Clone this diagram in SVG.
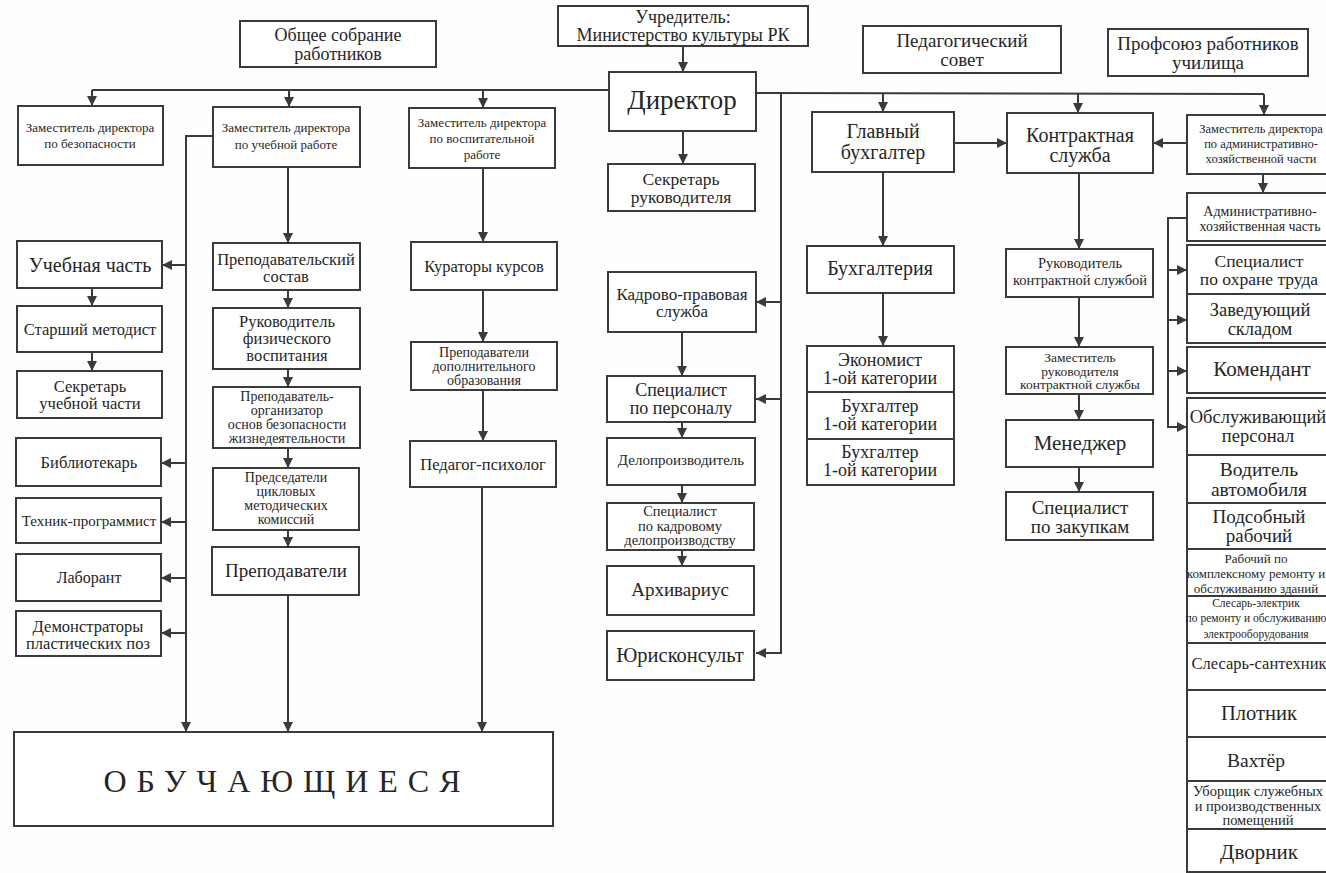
<svg xmlns="http://www.w3.org/2000/svg" width="1326" height="873" viewBox="0 0 1326 873" font-family="'Liberation Serif', 'DejaVu Serif', serif">
<style>
rect.b{fill:#fff;stroke:#3a3a3a;stroke-width:2}
text{font-family:'Liberation Serif','DejaVu Serif',serif;fill:#262626;text-anchor:middle;dominant-baseline:central}
.c line,.c polyline{fill:none;stroke:#3a3a3a;stroke-width:2}
</style>
<defs>
<marker id="a" markerUnits="userSpaceOnUse" markerWidth="11" markerHeight="11" refX="10" refY="5.5" orient="auto"><path d="M0,0.5 L10,5.5 L0,10.5 z" fill="#3a3a3a"/></marker>
</defs>
<rect width="1326" height="873" fill="#fefefe"/>

<g class="c" id="connectors">
<line x1="683" y1="46" x2="683" y2="72" marker-end="url(#a)"/>
<line x1="609" y1="90" x2="92" y2="90"/>
<line x1="92" y1="90" x2="92" y2="106" marker-end="url(#a)"/>
<line x1="289" y1="90" x2="289" y2="107" marker-end="url(#a)"/>
<line x1="483" y1="90" x2="483" y2="108" marker-end="url(#a)"/>
<line x1="756" y1="93" x2="1264" y2="94"/>
<line x1="883" y1="93" x2="883" y2="112" marker-end="url(#a)"/>
<line x1="1078" y1="94" x2="1078" y2="113" marker-end="url(#a)"/>
<line x1="1264" y1="94" x2="1264" y2="115" marker-end="url(#a)"/>
<line x1="683" y1="131" x2="683" y2="164" marker-end="url(#a)"/>
<line x1="781" y1="93" x2="781" y2="654"/>
<line x1="781" y1="302" x2="756" y2="302" marker-end="url(#a)"/>
<line x1="781" y1="399" x2="756" y2="399" marker-end="url(#a)"/>
<line x1="781" y1="653" x2="756" y2="653" marker-end="url(#a)"/>
<line x1="682" y1="332" x2="682" y2="376" marker-end="url(#a)"/>
<line x1="682" y1="422" x2="682" y2="438" marker-end="url(#a)"/>
<line x1="682" y1="485" x2="682" y2="503" marker-end="url(#a)"/>
<line x1="682" y1="550" x2="682" y2="566" marker-end="url(#a)"/>
<line x1="954" y1="143" x2="1007" y2="143" marker-end="url(#a)"/>
<line x1="1187" y1="143" x2="1153" y2="143" marker-end="url(#a)"/>
<line x1="883" y1="172" x2="883" y2="246" marker-end="url(#a)"/>
<line x1="883" y1="293" x2="883" y2="346" marker-end="url(#a)"/>
<line x1="1079" y1="173" x2="1079" y2="249" marker-end="url(#a)"/>
<line x1="1079" y1="297" x2="1079" y2="347" marker-end="url(#a)"/>
<line x1="1079" y1="394" x2="1079" y2="420" marker-end="url(#a)"/>
<line x1="1079" y1="467" x2="1079" y2="492" marker-end="url(#a)"/>
<line x1="1263" y1="174" x2="1263" y2="193" marker-end="url(#a)"/>
<polyline points="1187,218 1168,218 1168,427"/>
<line x1="1168" y1="270" x2="1187" y2="270" marker-end="url(#a)"/>
<line x1="1168" y1="320" x2="1187" y2="320" marker-end="url(#a)"/>
<line x1="1168" y1="371" x2="1187" y2="371" marker-end="url(#a)"/>
<line x1="1167" y1="427" x2="1187" y2="427" marker-end="url(#a)"/>
<polyline points="213,136 186,136 186,732" marker-end="url(#a)"/>
<line x1="186" y1="265" x2="162" y2="265" marker-end="url(#a)"/>
<line x1="186" y1="463" x2="161" y2="463" marker-end="url(#a)"/>
<line x1="186" y1="522" x2="161" y2="522" marker-end="url(#a)"/>
<line x1="186" y1="578" x2="161" y2="578" marker-end="url(#a)"/>
<line x1="186" y1="633" x2="161" y2="633" marker-end="url(#a)"/>
<line x1="92" y1="288" x2="92" y2="306" marker-end="url(#a)"/>
<line x1="92" y1="352" x2="92" y2="371" marker-end="url(#a)"/>
<line x1="288" y1="167" x2="288" y2="243" marker-end="url(#a)"/>
<line x1="288" y1="290" x2="288" y2="308" marker-end="url(#a)"/>
<line x1="288" y1="369" x2="288" y2="387" marker-end="url(#a)"/>
<line x1="288" y1="448" x2="288" y2="468" marker-end="url(#a)"/>
<line x1="288" y1="530" x2="288" y2="547" marker-end="url(#a)"/>
<line x1="288" y1="595" x2="288" y2="732" marker-end="url(#a)"/>
<line x1="483" y1="168" x2="483" y2="242" marker-end="url(#a)"/>
<line x1="483" y1="290" x2="483" y2="342" marker-end="url(#a)"/>
<line x1="483" y1="390" x2="483" y2="441" marker-end="url(#a)"/>
<line x1="482" y1="487" x2="482" y2="732" marker-end="url(#a)"/>
</g>

<g id="n-sobranie" font-size="18"><rect class="b" x="240" y="21" width="196" height="46"/><text><tspan x="338" y="35">Общее собрание</tspan><tspan x="338" y="53.5">работников</tspan></text></g>
<g id="n-uchreditel" font-size="18"><rect class="b" x="558" y="6" width="250" height="40"/><text><tspan x="683" y="16.5">Учредитель:</tspan><tspan x="683" y="34.5">Министерство культуры РК</tspan></text></g>
<g id="n-direktor" font-size="27"><rect class="b" x="609" y="72" width="147" height="59"/><text x="682" y="100">Директор</text></g>
<g id="n-pedsovet" font-size="19"><rect class="b" x="863" y="26" width="198" height="47"/><text><tspan x="962" y="40">Педагогический</tspan><tspan x="962" y="59">совет</tspan></text></g>
<g id="n-profsoyuz" font-size="19"><rect class="b" x="1108" y="29" width="200" height="47"/><text><tspan x="1208" y="42.5">Профсоюз работников</tspan><tspan x="1208" y="61.5">училища</tspan></text></g>

<g id="n-zam-bez" font-size="13"><rect class="b" x="18" y="106" width="145" height="59"/><text><tspan x="90" y="127">Заместитель директора</tspan><tspan x="90" y="143">по безопасности</tspan></text></g>
<g id="n-zam-uch" font-size="13"><rect class="b" x="213" y="107" width="147" height="60"/><text><tspan x="286" y="127">Заместитель директора</tspan><tspan x="286" y="144">по учебной работе</tspan></text></g>
<g id="n-zam-vosp" font-size="13"><rect class="b" x="409" y="108" width="146" height="60"/><text><tspan x="482" y="122">Заместитель директора</tspan><tspan x="482" y="138">по воспитательной</tspan><tspan x="482" y="154">работе</tspan></text></g>
<g id="n-sekr-ruk" font-size="17.5"><rect class="b" x="608" y="164" width="147" height="47"/><text><tspan x="681" y="178.5">Секретарь</tspan><tspan x="681" y="196.5">руководителя</tspan></text></g>
<g id="n-glbuh" font-size="20"><rect class="b" x="812" y="112" width="142" height="60"/><text><tspan x="883" y="131">Главный</tspan><tspan x="883" y="151.5">бухгалтер</tspan></text></g>
<g id="n-kontr" font-size="20"><rect class="b" x="1007" y="113" width="146" height="60"/><text><tspan x="1080" y="134.5">Контрактная</tspan><tspan x="1080" y="155">служба</tspan></text></g>
<g id="n-zam-ahch" font-size="12.5"><rect class="b" x="1187" y="115" width="160" height="59"/><text><tspan x="1261" y="129">Заместитель директора</tspan><tspan x="1261" y="144">по административно-</tspan><tspan x="1261" y="159">хозяйственной части</tspan></text></g>

<g id="n-uchchast" font-size="20"><rect class="b" x="17" y="241" width="145" height="47"/><text x="90" y="265">Учебная часть</text></g>
<g id="n-metodist" font-size="16.5"><rect class="b" x="17" y="306" width="145" height="46"/><text x="90" y="329">Старший методист</text></g>
<g id="n-sekr-uch" font-size="16.5"><rect class="b" x="17" y="371" width="145" height="47"/><text><tspan x="90" y="386">Секретарь</tspan><tspan x="90" y="403">учебной части</tspan></text></g>
<g id="n-bibl" font-size="16.5"><rect class="b" x="16" y="438" width="145" height="48"/><text x="89" y="462">Библиотекарь</text></g>
<g id="n-tehnik" font-size="15"><rect class="b" x="16" y="498" width="145" height="45"/><text x="89" y="521">Техник-программист</text></g>
<g id="n-laborant" font-size="16"><rect class="b" x="16" y="554" width="145" height="47"/><text x="89" y="577">Лаборант</text></g>
<g id="n-demonstr" font-size="16.5"><rect class="b" x="16" y="611" width="145" height="45"/><text><tspan x="88" y="625.5">Демонстраторы</tspan><tspan x="88" y="642.5">пластических поз</tspan></text></g>

<g id="n-prepsostav" font-size="16.5"><rect class="b" x="213" y="243" width="147" height="47"/><text><tspan x="286" y="258.5">Преподавательский</tspan><tspan x="286" y="275.5">состав</tspan></text></g>
<g id="n-rukfiz" font-size="16.5"><rect class="b" x="213" y="308" width="147" height="61"/><text><tspan x="287" y="321">Руководитель</tspan><tspan x="287" y="338">физического</tspan><tspan x="287" y="355">воспитания</tspan></text></g>
<g id="n-prep-org" font-size="14"><rect class="b" x="213" y="387" width="147" height="61"/><text><tspan x="287" y="396">Преподаватель-</tspan><tspan x="287" y="410">организатор</tspan><tspan x="287" y="424">основ безопасности</tspan><tspan x="287" y="438">жизнедеятельности</tspan></text></g>
<g id="n-predsed" font-size="14"><rect class="b" x="213" y="468" width="146" height="62"/><text><tspan x="286" y="477">Председатели</tspan><tspan x="286" y="491">цикловых</tspan><tspan x="286" y="505">методических</tspan><tspan x="286" y="519">комиссий</tspan></text></g>
<g id="n-prepod" font-size="19"><rect class="b" x="212" y="547" width="147" height="48"/><text x="286" y="570">Преподаватели</text></g>

<g id="n-kurat" font-size="16.5"><rect class="b" x="411" y="242" width="146" height="48"/><text x="484" y="266">Кураторы курсов</text></g>
<g id="n-prepdop" font-size="14"><rect class="b" x="411" y="342" width="146" height="48"/><text><tspan x="484" y="352">Преподаватели</tspan><tspan x="484" y="366">дополнительного</tspan><tspan x="484" y="380">образования</tspan></text></g>
<g id="n-psiholog" font-size="16.5"><rect class="b" x="410" y="441" width="146" height="46"/><text x="483" y="464">Педагог-психолог</text></g>

<g id="n-kadr" font-size="17"><rect class="b" x="608" y="272" width="148" height="60"/><text><tspan x="682" y="294">Кадрово-правовая</tspan><tspan x="682" y="311">служба</tspan></text></g>
<g id="n-spec-pers" font-size="18"><rect class="b" x="607" y="376" width="148" height="46"/><text><tspan x="681" y="390">Специалист</tspan><tspan x="681" y="408">по персоналу</tspan></text></g>
<g id="n-deloproizv" font-size="15"><rect class="b" x="607" y="438" width="148" height="47"/><text x="681" y="460">Делопроизводитель</text></g>
<g id="n-spec-kadr" font-size="14.5"><rect class="b" x="607" y="503" width="147" height="47"/><text><tspan x="680" y="511">Специалист</tspan><tspan x="680" y="525.5">по кадровому</tspan><tspan x="680" y="540">делопроизводству</tspan></text></g>
<g id="n-arhiv" font-size="19"><rect class="b" x="607" y="566" width="147" height="49"/><text x="680" y="589">Архивариус</text></g>
<g id="n-yurist" font-size="20.5"><rect class="b" x="607" y="631" width="147" height="49"/><text x="680" y="655">Юрисконсульт</text></g>

<g id="n-buhg" font-size="20"><rect class="b" x="807" y="246" width="147" height="47"/><text x="880" y="268">Бухгалтерия</text></g>
<g id="n-ekonomist" font-size="18"><rect class="b" x="807" y="346" width="147" height="46"/><text><tspan x="880" y="360">Экономист</tspan><tspan x="880" y="378">1-ой категории</tspan></text></g>
<g id="n-buhgalter1" font-size="18"><rect class="b" x="807" y="392" width="147" height="47"/><text><tspan x="880" y="406">Бухгалтер</tspan><tspan x="880" y="424">1-ой категории</tspan></text></g>
<g id="n-buhgalter2" font-size="18"><rect class="b" x="807" y="439" width="147" height="46"/><text><tspan x="880" y="452">Бухгалтер</tspan><tspan x="880" y="470">1-ой категории</tspan></text></g>

<g id="n-ruk-kontr" font-size="14.5"><rect class="b" x="1006" y="249" width="147" height="48"/><text><tspan x="1080" y="263">Руководитель</tspan><tspan x="1080" y="280">контрактной службой</tspan></text></g>
<g id="n-zam-kontr" font-size="13.5"><rect class="b" x="1006" y="347" width="147" height="47"/><text><tspan x="1080" y="357">Заместитель</tspan><tspan x="1080" y="370.5">руководителя</tspan><tspan x="1080" y="384">контрактной службы</tspan></text></g>
<g id="n-menedzher" font-size="21"><rect class="b" x="1006" y="420" width="147" height="47"/><text x="1080" y="443">Менеджер</text></g>
<g id="n-spec-zak" font-size="19"><rect class="b" x="1006" y="492" width="147" height="48"/><text><tspan x="1080" y="507">Специалист</tspan><tspan x="1080" y="526">по закупкам</tspan></text></g>

<g id="n-ahch" font-size="14"><rect class="b" x="1187" y="193" width="160" height="48"/><text><tspan x="1260" y="211">Административно-</tspan><tspan x="1260" y="226">хозяйственная часть</tspan></text></g>
<g id="n-ohrana" font-size="17.5"><rect class="b" x="1187" y="245" width="160" height="49"/><text><tspan x="1259" y="261">Специалист</tspan><tspan x="1259" y="279">по охране труда</tspan></text></g>
<g id="n-sklad" font-size="18.5"><rect class="b" x="1187" y="294" width="160" height="49"/><text><tspan x="1260" y="310">Заведующий</tspan><tspan x="1260" y="329">складом</tspan></text></g>
<g id="n-komendant" font-size="21"><rect class="b" x="1187" y="347" width="160" height="46"/><text x="1262" y="369">Комендант</text></g>
<g id="n-obsl" font-size="18.5"><rect class="b" x="1187" y="398" width="160" height="57"/><text><tspan x="1258" y="417">Обслуживающий</tspan><tspan x="1258" y="436">персонал</tspan></text></g>
<g id="n-voditel" font-size="19.5"><rect class="b" x="1187" y="455" width="160" height="48"/><text><tspan x="1259" y="469">Водитель</tspan><tspan x="1259" y="489">автомобиля</tspan></text></g>
<g id="n-podsob" font-size="19"><rect class="b" x="1187" y="503" width="160" height="46"/><text><tspan x="1259" y="516">Подсобный</tspan><tspan x="1259" y="535">рабочий</tspan></text></g>
<g id="n-rab-kompl" font-size="13"><rect class="b" x="1187" y="549" width="160" height="47"/><text><tspan x="1256" y="558">Рабочий по</tspan><tspan x="1256" y="573">комплексному ремонту и</tspan><tspan x="1256" y="588">обслуживанию зданий</tspan></text></g>
<g id="n-elektrik" font-size="11.5"><rect class="b" x="1187" y="596" width="160" height="47"/><text><tspan x="1256" y="603">Слесарь-электрик</tspan><tspan x="1256" y="618">по ремонту и обслуживанию</tspan><tspan x="1256" y="634">электрооборудования</tspan></text></g>
<g id="n-santeh" font-size="16.5"><rect class="b" x="1187" y="643" width="160" height="47"/><text x="1259" y="663">Слесарь-сантехник</text></g>
<g id="n-plotnik" font-size="20.5"><rect class="b" x="1187" y="690" width="160" height="47"/><text x="1259" y="713">Плотник</text></g>
<g id="n-vahter" font-size="19.5"><rect class="b" x="1187" y="737" width="160" height="44"/><text x="1256" y="760">Вахтёр</text></g>
<g id="n-uborshik" font-size="14.5"><rect class="b" x="1187" y="781" width="160" height="48"/><text><tspan x="1258" y="791">Уборщик служебных</tspan><tspan x="1258" y="805.5">и производственных</tspan><tspan x="1258" y="820">помещений</tspan></text></g>
<g id="n-dvornik" font-size="21"><rect class="b" x="1187" y="829" width="160" height="43"/><text x="1259" y="852">Дворник</text></g>

<g id="n-obuch"><rect class="b" x="14" y="732" width="539" height="94"/><text x="282" y="781" font-size="32" textLength="357" lengthAdjust="spacing">ОБУЧАЮЩИЕСЯ</text></g>
</svg>
